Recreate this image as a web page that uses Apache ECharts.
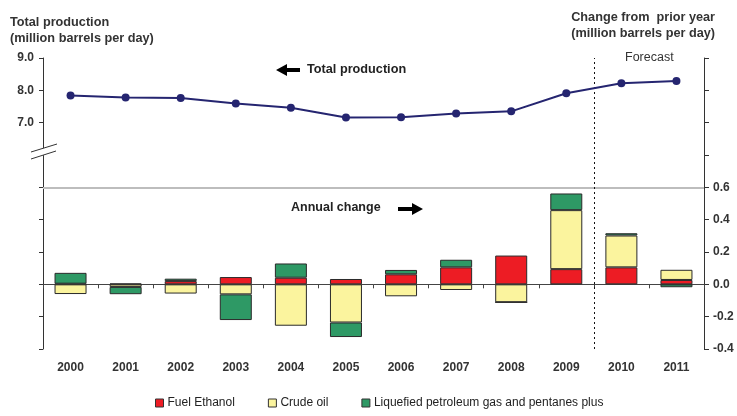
<!DOCTYPE html>
<html><head><meta charset="utf-8">
<script src="https://cdn.jsdelivr.net/npm/echarts@6/dist/echarts.min.js"></script>
<style>html,body{margin:0;padding:0;background:#fff}#c{width:737px;height:416px}</style>
</head><body><div id="c"></div>
<script>
const years = ['2000','2001','2002','2003','2004','2005','2006','2007','2008','2009','2010','2011'];
const totalProduction = [7.84,7.78,7.76,7.59,7.46,7.16,7.17,7.28,7.35,7.91,8.22,8.29];
const fuelEthanol = [0.004,0.005,0.02,0.045,0.041,0.033,0.062,0.105,0.178,0.094,0.105,0.027];
const crudeOil = [-0.06,-0.016,-0.057,-0.062,-0.256,-0.236,-0.074,-0.035,-0.111,0.365,0.197,0.063];
const lpg = [0.067,-0.045,0.015,-0.159,0.088,-0.09,0.027,0.047,0,0.103,0.014,-0.018];
const leftTickValues = [0,1,2,3,4,5,7,8,9];
const leftLabelValues = [7,8,9];
const rightLabelValues = [-0.4,-0.2,0,0.2,0.4,0.6];
const forecastStartIndex = 10; // boundary before 2010
const seriesNames = ['Fuel Ethanol','Crude oil','Liquefied petroleum gas and pentanes plus'];
const seriesColors = ['#ED1C24','#FBF49E','#2E9965'];

const FONT = 'Liberation Sans, Arial, sans-serif';
const chart = echarts.init(document.getElementById('c'), null, {renderer:'canvas'});
const barStyle = (i) => ({color: seriesColors[i], borderColor:'#2a2a2a', borderWidth:1});
const option = {
  animation: false,
  textStyle: {fontFamily: FONT},
  grid: {left:43, right:33, top:58, bottom:67, containLabel:false, outerBoundsMode:'none'},
  legend: {
    bottom: 2, left: 150, itemWidth: 8, itemHeight: 8, itemGap: 33, icon: 'rect',
    data: seriesNames,
    textStyle: {fontFamily: FONT, fontSize: 12, color:'#222', padding:[0,0,0,-1]},
    itemStyle: {borderColor:'#333', borderWidth:1}
  },
  xAxis: [{
    type:'category', data: years, boundaryGap:true,
    axisLine: {show:true, onZero:true, onZeroAxisIndex:1, lineStyle:{color:'#444', width:1}},
    axisTick: {show:true, length:4, lineStyle:{color:'#444'}},
    axisLabel: {margin:13, fontFamily:FONT, fontSize:12, fontWeight:'bold', color:'#333'},
    splitLine: {show:false}
  },{
    type:'value', show:false, min:0, max: years.length, position:'top'
  }],
  yAxis: [{
    type:'value', position:'left', min:0, max:9, interval:1,
    axisLine:{show:true, lineStyle:{color:'#333'}},
    axisTick:{show:true, length:4, customValues: leftTickValues, lineStyle:{color:'#333'}},
    axisLabel:{customValues: leftLabelValues, margin:9, fontFamily:FONT, fontSize:12, fontWeight:'bold', color:'#333', formatter:(v)=>v.toFixed(1)},
    splitLine:{show:false}
  },{
    type:'value', position:'right', min:-0.4, max:1.4, interval:0.2,
    axisLine:{show:true, lineStyle:{color:'#333'}},
    axisTick:{show:true, length:5, lineStyle:{color:'#333'}},
    axisLabel:{customValues: rightLabelValues, margin:9, fontFamily:FONT, fontSize:12, fontWeight:'bold', color:'#333', formatter:(v)=>v.toFixed(1)},
    splitLine:{show:false}
  }],
  series: [
    {name: seriesNames[0], type:'bar', stack:'chg', yAxisIndex:1, barWidth:32, data: fuelEthanol, itemStyle: barStyle(0),
     markLine: {silent:true, symbol:'none', label:{show:false},
       data:[{yAxis:0.6, lineStyle:{color:'#bdbdbd', width:2, type:'solid'}}]}},
    {name: seriesNames[1], type:'bar', stack:'chg', yAxisIndex:1, barWidth:32, data: crudeOil, itemStyle: barStyle(1)},
    {name: seriesNames[2], type:'bar', stack:'chg', yAxisIndex:1, barWidth:32, data: lpg, itemStyle: barStyle(2)},
    {name:'Total production', type:'line', yAxisIndex:0, data: totalProduction, z:5,
     symbol:'circle', symbolSize:8, lineStyle:{color:'#252570', width:2}, itemStyle:{color:'#252570'}},
    {name:'forecastDivider', type:'scatter', xAxisIndex:1, yAxisIndex:1, data:[], silent:true,
     markLine:{silent:true, symbol:'none', label:{show:false},
       data:[{xAxis: forecastStartIndex, lineStyle:{color:'#111', width:1, type:[2,3]}}]}}
  ],
  graphic: [
    {type:'text', left:10, top:14, style:{text:'Total production\n(million barrels per day)', font:'bold 12.7px '+FONT, fill:'#333', lineHeight:16}},
    {type:'text', right:22, top:9, style:{text:'Change from  prior year\n(million barrels per day)', font:'bold 12.7px '+FONT, fill:'#333', lineHeight:16, align:'right'}},
    {type:'text', left:625, top:51, style:{text:'Forecast', font:'12.5px '+FONT, fill:'#333'}},
    {type:'text', left:307, top:63, style:{text:'Total production', font:'bold 12.7px '+FONT, fill:'#222'}},
    {type:'text', left:291, top:201, style:{text:'Annual change', font:'bold 12.5px '+FONT, fill:'#222'}},
    {type:'polygon', shape:{points:[[276,70],[287,64],[287,68],[300,68],[300,72],[287,72],[287,76]]}, style:{fill:'#000'}},
    {type:'polygon', shape:{points:[[423,209],[412,203],[412,207],[398,207],[398,211],[412,211],[412,215]]}, style:{fill:'#000'}},
    {type:'polygon', shape:{points:[[31,152],[57,144],[57,151],[31,159]]}, style:{fill:'#fff'}, z:100},
    {type:'line', shape:{x1:31,y1:152,x2:57,y2:144}, style:{stroke:'#333', lineWidth:1}, z:101},
    {type:'line', shape:{x1:31,y1:159,x2:56,y2:151}, style:{stroke:'#333', lineWidth:1}, z:101}
  ]
};
chart.setOption(option);
</script></body></html>
